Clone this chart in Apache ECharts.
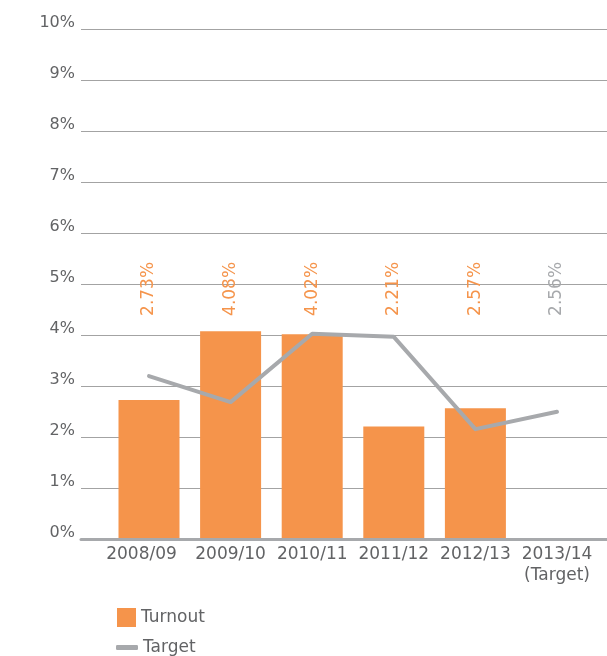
<!DOCTYPE html>
<html>
<head>
<meta charset="utf-8">
<script src="https://cdn.jsdelivr.net/npm/echarts@6/dist/echarts.min.js"></script>
<style>html,body{margin:0;padding:0;background:#fff;}#c{width:607px;height:656px;}</style>
</head>
<body>
<div id="c"></div>
<script>
var categories = ['2008/09', '2009/10', '2010/11', '2011/12', '2012/13', '2013/14\n(Target)'];
var turnout = [2.73, 4.08, 4.02, 2.21, 2.57, null];
var target = [3.20, 2.69, 4.03, 3.97, 2.16, 2.50];
var labelValues = [2.73, 4.08, 4.02, 2.21, 2.57, 2.56];
var yTicks = [0, 1, 2, 3, 4, 5, 6, 7, 8, 9, 10];

var ORANGE = '#F5944B';
var GREY = '#A7A9AC';
var TEXT = '#626365';
var FONT = 'DejaVu Sans';
var FW = 'normal';
var LABEL_Y = 4.38;

var chart = echarts.init(document.getElementById('c'), null, {renderer: 'canvas'});
var catData = categories.map(function (c, i) {
  return i === 0 ? {value: c, textStyle: {padding: [0, 15, 0, 0]}} : c;
});
var labelData = labelValues.map(function (v, i) {
  return {
    value: [i, LABEL_Y],
    label: {color: turnout[i] == null ? GREY : ORANGE},
    text: v.toFixed(2) + '%'
  };
});

chart.setOption({
  animation: false,
  grid: [
    {left: 81, right: 0, top: 29.3, bottom: 116.7},
    {left: 108.2, width: 489.6, top: 29.3, bottom: 116.7}
  ],
  xAxis: [
    {type: 'value', gridIndex: 0, min: 0, max: 1, z: 5,
     axisLine: {show: true, lineStyle: {color: GREY, width: 3}},
     axisTick: {show: false}, axisLabel: {show: false}, splitLine: {show: false}},
    {type: 'category', gridIndex: 1, data: catData, boundaryGap: true,
     axisLine: {show: false}, axisTick: {show: false},
     axisLabel: {color: TEXT, fontFamily: FONT, fontWeight: FW, fontSize: 17, margin: 5, lineHeight: 21, interval: 0}}
  ],
  yAxis: [
    {type: 'value', gridIndex: 0, min: yTicks[0], max: yTicks[yTicks.length - 1], interval: 1,
     axisLine: {show: false}, axisTick: {show: false},
     axisLabel: {color: TEXT, fontFamily: FONT, fontWeight: FW, fontSize: 16, margin: 6,
                 verticalAlign: 'bottom', lineHeight: 12,
                 formatter: '{value}%'},
     splitLine: {lineStyle: {color: '#a3a3a3', width: 1}}},
    {type: 'value', gridIndex: 1, min: 0, max: 10, show: false}
  ],
  legend: [
    {data: [{name: 'Turnout', icon: 'rect'}], left: 117, top: 608, padding: 0, itemWidth: 19, itemHeight: 19,
     textStyle: {color: TEXT, fontFamily: FONT, fontWeight: FW, fontSize: 17}},
    {data: [{name: 'Target', icon: 'roundRect'}], left: 116, top: 639, padding: 0, itemWidth: 22, itemHeight: 5,
     textStyle: {color: TEXT, fontFamily: FONT, fontWeight: FW, fontSize: 17}}
  ],
  series: [
    {name: 'Turnout', type: 'bar', xAxisIndex: 1, yAxisIndex: 1, data: turnout,
     barWidth: 61, itemStyle: {color: ORANGE}},
    {name: 'Target', type: 'line', xAxisIndex: 1, yAxisIndex: 1, data: target,
     symbol: 'none', lineStyle: {color: GREY, width: 4, cap: 'round', join: 'round'},
     itemStyle: {color: GREY}, z: 4},
    {name: 'labels', type: 'scatter', xAxisIndex: 1, yAxisIndex: 1, data: labelData,
     symbolSize: 0, silent: true, itemStyle: {opacity: 1},
     label: {show: true, position: 'inside', rotate: 90, align: 'left', verticalAlign: 'middle',
             fontFamily: FONT, fontWeight: FW, fontSize: 17, opacity: 1,
             formatter: function (p) { return p.data.text; }}}
  ]
});
</script>
</body>
</html>
